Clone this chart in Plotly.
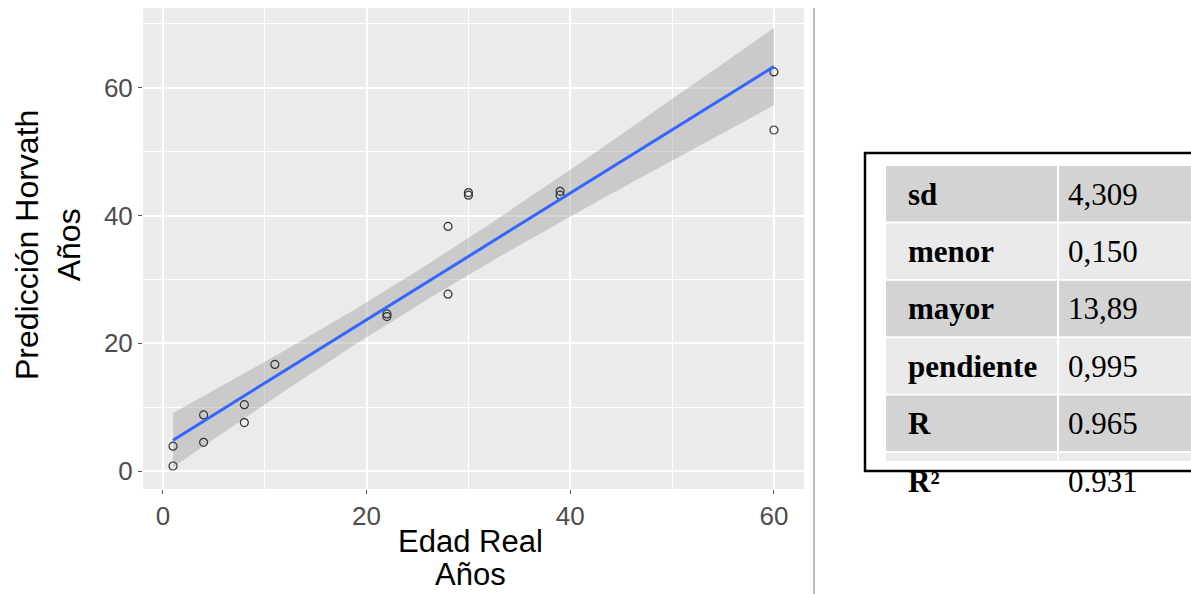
import numpy as np
import plotly.graph_objects as go

# ---------------- data ----------------
edad_real = [1, 1, 4, 4, 8, 8, 11, 22, 22, 28, 28, 30, 30, 39, 39, 60, 60]
prediccion_horvath = [0.8, 3.9, 8.8, 4.5, 10.4, 7.6, 16.7, 24.6, 24.2, 38.3, 27.7,
                      43.6, 43.2, 43.8, 43.2, 62.5, 53.4]
x_ticks = [0, 20, 40, 60]
y_ticks = [0, 20, 40, 60]
x_title_lines = ["Edad Real", "Años"]
y_title = "Predicción Horvath<br>Años"
stat_labels = ["sd", "menor", "mayor", "pendiente", "R", "R²"]
stat_values = ["4,309", "0,150", "13,89", "0,995", "0.965", "0.931"]

# ---------------- linear fit + 95% CI (like geom_smooth(method='lm')) ----------------
x = np.array(edad_real, dtype=float)
y = np.array(prediccion_horvath, dtype=float)
n = len(x)
b1, b0 = np.polyfit(x, y, 1)
resid = y - (b0 + b1 * x)
s = np.sqrt(np.sum(resid ** 2) / (n - 2))
sxx = np.sum((x - x.mean()) ** 2)
t_crit = 2.131  # t(0.975, df=15)
xf = np.linspace(x.min(), x.max(), 80)
yf = b0 + b1 * xf
se = s * np.sqrt(1.0 / n + (xf - x.mean()) ** 2 / sxx)
upper = yf + t_crit * se
lower = yf - t_crit * se

W, H = 1191, 594
L, R, T, B = 143, 804, 8, 489


def px(v):
    return (v - L) / (R - L)


def py(v):
    return (B - v) / (B - T)


fig = go.Figure()
fig.add_trace(go.Scatter(
    x=np.concatenate([xf, xf[::-1]]), y=np.concatenate([upper, lower[::-1]]),
    fill="toself", fillcolor="rgba(153,153,153,0.4)", line=dict(width=0),
    mode="lines", hoverinfo="skip", showlegend=False))
fig.add_trace(go.Scatter(
    x=edad_real, y=prediccion_horvath, mode="markers",
    marker=dict(symbol="circle-open", size=8, color="#333333", line=dict(width=1.2)),
    showlegend=False))
fig.add_trace(go.Scatter(
    x=xf, y=yf, mode="lines", line=dict(color="#3366FF", width=3), showlegend=False))

axis_common = dict(
    showline=False, zeroline=False, gridcolor="white", gridwidth=1.8,
    ticks="outside", ticklen=4, tickwidth=1, tickcolor="#555555", automargin=False,
    tickfont=dict(family="Liberation Sans", size=26, color="#4D4D4D"),
    minor=dict(dtick=10, showgrid=True, gridcolor="white", gridwidth=0.8, ticks=""),
)

fig.update_xaxes(range=[-1.95, 62.95], tickvals=x_ticks, dtick=20, **axis_common)
fig.update_yaxes(range=[-2.8, 72.5], tickvals=y_ticks, dtick=20, **axis_common)

shapes = []
annotations = []
# axis titles
for line_text, yc in zip(x_title_lines, [541, 574]):
    annotations.append(dict(xref="paper", yref="paper", x=px(470), y=py(yc),
                            xanchor="center", yanchor="middle", showarrow=False,
                            text=line_text,
                            font=dict(family="Liberation Sans", size=31, color="black")))
annotations.append(dict(xref="paper", yref="paper", x=px(48), y=py(245),
                        xanchor="center", yanchor="middle", showarrow=False, text=y_title,
                        textangle=-90,
                        font=dict(family="Liberation Sans", size=32, color="black")))

# vertical separator
shapes.append(dict(type="line", xref="paper", yref="paper", x0=px(814), x1=px(814),
                   y0=py(8), y1=py(594), line=dict(color="#BDBDBD", width=2)))

# table
row_top0, row_step, row_h = 166, 57.4, 55.5
col1_l, col1_r, col2_l, col2_r = 886, 1057, 1059, 1193
for i, (lab, val) in enumerate(zip(stat_labels, stat_values)):
    top = row_top0 + i * row_step
    bot = min(top + row_h, 461)
    fill = "#D3D3D3" if i % 2 == 0 else "#EAEAEA"
    for (a, b) in [(col1_l, col1_r), (col2_l, col2_r)]:
        shapes.append(dict(type="rect", xref="paper", yref="paper", x0=px(a), x1=px(b),
                           y0=py(bot), y1=py(top), fillcolor=fill, line=dict(width=0),
                           layer="above"))
    yc = py(top + 28)
    annotations.append(dict(xref="paper", yref="paper", x=px(906), y=yc, xanchor="left",
                            yanchor="middle", showarrow=False, text=f"<b>{lab}</b>",
                            font=dict(family="Liberation Serif", size=31, color="black")))
    annotations.append(dict(xref="paper", yref="paper", x=px(1066), y=yc, xanchor="left",
                            yanchor="middle", showarrow=False, text=val,
                            font=dict(family="Liberation Serif", size=31, color="black")))
shapes.append(dict(type="rect", xref="paper", yref="paper", x0=px(865), x1=px(1195),
                   y0=py(471), y1=py(153), line=dict(color="black", width=2.5),
                   fillcolor="rgba(0,0,0,0)", layer="above"))

fig.update_layout(
    width=W, height=H,
    margin=dict(l=L, r=W - R, t=T, b=H - B, autoexpand=False),
    paper_bgcolor="white", plot_bgcolor="#EBEBEB",
    shapes=shapes, annotations=annotations, showlegend=False,
)

fig.write_html("out.html")
